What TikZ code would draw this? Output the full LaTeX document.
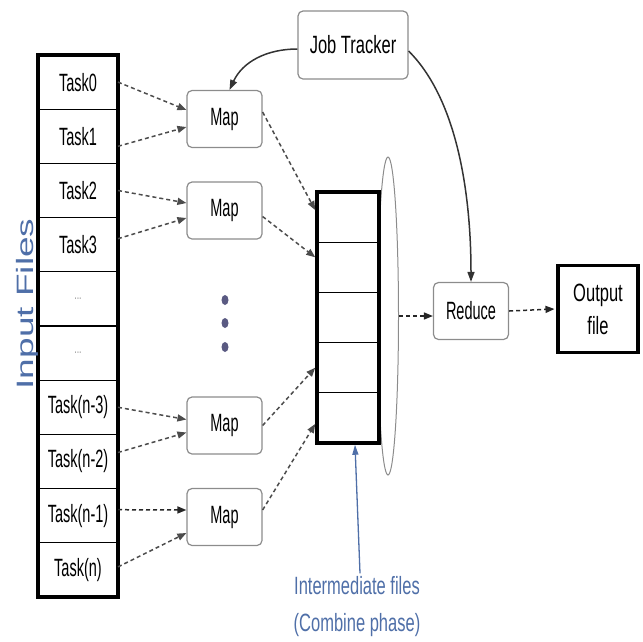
\documentclass[tikz,border=0pt]{standalone}
\usepackage{fontspec}
\setmainfont{Liberation Sans}[FakeStretch=0.58]
\newfontfamily\widefont{Liberation Sans}[FakeStretch=0.66]
\newfontfamily\sidefont{Liberation Sans}
\usetikzlibrary{shapes.geometric,arrows.meta,positioning}
\definecolor{labelblue}{HTML}{4F6FA8}
\definecolor{dotcol}{HTML}{5A5A82}

\begin{document}
\begin{tikzpicture}[x=1pt, y=1pt,
  node distance=0pt,
  cell/.style={rectangle, draw, line width=1.2pt, minimum width=80pt,
    minimum height=54.2pt, inner sep=0pt, outer sep=0pt,
    font=\fontsize{25}{28}\selectfont},
  icell/.style={rectangle, draw, line width=1.2pt, minimum width=62pt,
    minimum height=50.2pt, inner sep=0pt, outer sep=0pt},
  frame/.style={line width=3.5pt},
  procbox/.style={rectangle, draw=black!45, line width=1.2pt, rounded corners=5pt,
    minimum width=75pt, minimum height=57pt, align=center,
    font=\fontsize{25}{28}\selectfont},
  dot/.style={ellipse, fill=dotcol, inner sep=0pt, minimum width=7pt, minimum height=10pt},
  dasharrow/.style={-{Triangle[length=9pt,width=7pt]}, dash pattern=on 4pt off 3pt,
    line width=1.5pt, draw=black!70},
  ctrlarrow/.style={-{Triangle[length=10pt,width=7pt]}, line width=1.5pt, draw=black!80},
  notearrow/.style={-{Triangle[length=10pt,width=6pt]}, line width=1.3pt, draw=labelblue}
]
  \useasboundingbox (0,0) rectangle (643,-641);

  % input task column
  \node[cell] (t0) at (78,-82.1) {Task0};
  \node[cell, below=of t0] (t1) {Task1};
  \node[cell, below=of t1] (t2) {Task2};
  \node[cell, below=of t2] (t3) {Task3};
  \node[cell, below=of t3] (t4) {\textcolor{black!40}{\fontsize{15}{16}\selectfont ...}};
  \node[cell, below=of t4] (t5) {\textcolor{black!40}{\fontsize{15}{16}\selectfont ...}};
  \node[cell, below=of t5] (t6) {Task(n-3)};
  \node[cell, below=of t6] (t7) {Task(n-2)};
  \node[cell, below=of t7] (t8) {Task(n-1)};
  \node[cell, below=of t8] (t9) {Task(n)};
  \draw[frame] (t0.north west) rectangle (t9.south east);
  \node[rotate=90, anchor=base, text=labelblue] (side) at (33,-304)
    {\scalebox{1}[0.64]{\sidefont\fontsize{37}{40}\selectfont Input Files}};

  % map boxes
  \node[procbox] (m1) at (224.5,-119) {Map};
  \node[procbox] (m2) at (224.5,-210.5) {Map};
  \node[procbox] (m3) at (224.5,-425.5) {Map};
  \node[procbox] (m4) at (224.5,-517) {Map};
  \node[dot] (d1) at (225,-300) {};
  \node[dot] (d2) at (225,-323) {};
  \node[dot] (d3) at (225,-347) {};

  \node[procbox, minimum width=110pt, minimum height=68pt,
    font=\widefont\fontsize{25}{28}\selectfont] (jt) at (353,-45) {Job Tracker};

  % intermediate files
  \node[ellipse, draw=black!45, line width=1pt, minimum width=21pt, minimum height=318pt,
    inner sep=0pt] (grp) at (388,-316) {};
  \node[icell] (f1) at (348,-217.1) {};
  \node[icell, below=of f1] (f2) {};
  \node[icell, below=of f2] (f3) {};
  \node[icell, below=of f3] (f4) {};
  \node[icell, below=of f4] (f5) {};
  \draw[frame] (f1.north west) rectangle (f5.south east);

  \node[procbox] (red) at (471,-311) {Reduce};
  \node[procbox, draw=black, line width=3.5pt, rounded corners=0pt, minimum width=80pt,
    minimum height=87pt, font=\widefont\fontsize{25}{33}\selectfont] (out) at (598,-309) {Output\\file};

  \node[align=center, text=labelblue, font=\widefont\fontsize{25}{37}\selectfont] (note) at (357,-607)
    {Intermediate files\\(Combine phase)};

  \draw[dasharrow] (t0.east) -- ([yshift=9pt]m1.west);
  \draw[dasharrow] ([yshift=-10pt]t1.east) -- ([yshift=-8pt]m1.west);
  \draw[dasharrow] (t2.east) -- ([yshift=7.5pt]m2.west);
  \draw[dasharrow] ([yshift=6pt]t3.east) -- ([yshift=-7.5pt]m2.west);
  \draw[dasharrow] (t6.east) -- ([yshift=6pt]m3.west);
  \draw[dasharrow] ([yshift=9pt]t7.east) -- ([yshift=-7pt]m3.west);
  \draw[dasharrow, draw=black!85] ([yshift=6pt]t8.east) -- ([yshift=7pt]m4.west);
  \draw[dasharrow] ([yshift=3pt]t9.east) -- ([yshift=-16pt]m4.west);

  \draw[dasharrow] ([yshift=7pt]m1.east) -- ([xshift=-1.75pt,yshift=7pt]f1.west);
  \draw[dasharrow] ([yshift=-6pt]m2.east) -- ([xshift=-1.75pt,yshift=10pt]f2.west);
  \draw[dasharrow] (m3.east) -- ([xshift=-1.75pt]f4.west);
  \draw[dasharrow] ([yshift=7pt]m4.east) -- ([xshift=-1.75pt,yshift=-6pt]f5.west);

  \draw[dasharrow, draw=black!85] (grp.east) -- (grp.east -| red.west);
  \draw[dasharrow, draw=black!85] (red.east) -- ([xshift=-1.75pt]out.west);

  \draw[ctrlarrow] ([yshift=-4pt]jt.west) to[out=180, in=65] ([xshift=5pt]m1.north);
  \draw[ctrlarrow] ([yshift=-6pt]jt.east) to[out=-45, in=90, looseness=0.8] (red.north);

  \draw[notearrow] ([xshift=3pt]note.north) -- ([xshift=7pt,yshift=-1.75pt]f5.south);
\end{tikzpicture}
\end{document}
